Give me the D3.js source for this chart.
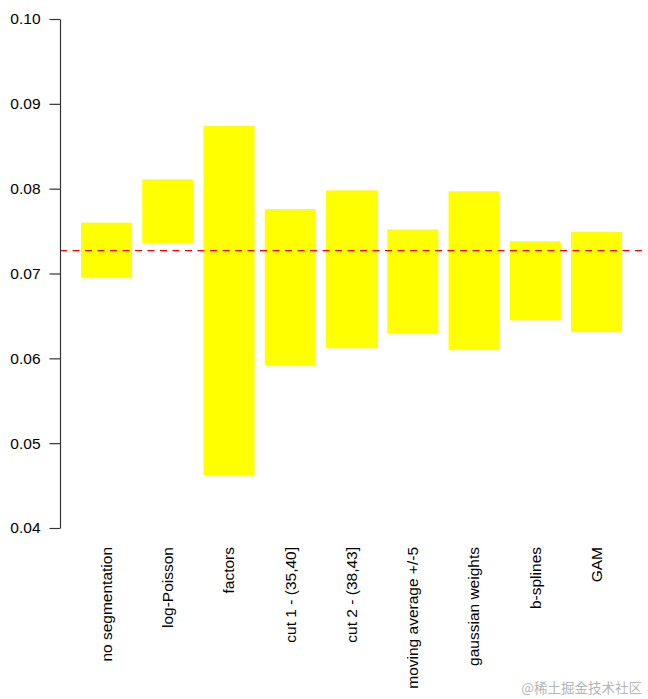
<!DOCTYPE html>
<html>
<head>
<meta charset="utf-8">
<script src="https://cdnjs.cloudflare.com/ajax/libs/d3/7.8.5/d3.min.js"></script>
<style>
  body { margin: 0; background: #fff; }
  svg { display: block; }
</style>
</head>
<body>
<div id="chart"></div>
<script>
// methods compared
var methods = ["no segmentation", "log-Poisson", "factors", "cut 1 - (35,40]", "cut 2 - (38,43]",
               "moving average +/-5", "gaussian weights", "b-splines", "GAM"];
// lower and upper end of each bar
var lower = [0.0695, 0.0736, 0.0462, 0.0592, 0.0612, 0.0629, 0.0610, 0.0645, 0.0631];
var upper = [0.0760, 0.0811, 0.0874, 0.0776, 0.0798, 0.0752, 0.0797, 0.0738, 0.0749];
var refValue = 0.0727;
var yTicks = [0.04, 0.05, 0.06, 0.07, 0.08, 0.09, 0.10];

var width = 648, height = 699;

var svg = d3.select("#chart")
    .append("svg")
    .attr("width", width)
    .attr("height", height);

var x = d3.scaleBand()
    .domain(methods)
    .range([75.9, 627.2])
    .paddingInner(0.1667)
    .paddingOuter(0.0833);

var y = d3.scaleLinear()
    .domain([0.04, 0.10])
    .range([528, 19]);

var data = methods.map(function (m, i) {
    return { name: m, lo: lower[i], hi: upper[i] };
});

// bars
svg.append("g")
    .selectAll("rect")
    .data(data)
    .enter()
    .append("rect")
    .attr("x", function (d) { return x(d.name); })
    .attr("width", x.bandwidth())
    .attr("y", function (d) { return y(d.hi); })
    .attr("height", function (d) { return y(d.lo) - y(d.hi); })
    .attr("fill", "#ffff00");

// reference line
svg.append("line")
    .attr("x1", 60)
    .attr("x2", 643)
    .attr("y1", y(refValue))
    .attr("y2", y(refValue))
    .style("stroke", "#ff0000")
    .style("stroke-width", 1.3)
    .style("stroke-dasharray", "7,5.5");

// y axis
var yAxis = svg.append("g")
    .attr("transform", "translate(60,0)")
    .call(d3.axisLeft(y)
        .tickValues(yTicks)
        .tickFormat(d3.format(".2f"))
        .tickSize(10.5)
        .tickSizeOuter(0)
        .tickPadding(9));

yAxis.selectAll("path, line").style("stroke", "#333").style("stroke-width", 1.2);
yAxis.selectAll("text")
    .style("font-family", "'Liberation Sans', Arial, sans-serif")
    .style("font-size", "15.5px")
    .style("fill", "#000");

// rotated category labels
svg.append("g")
    .selectAll("text")
    .data(methods)
    .enter()
    .append("text")
    .attr("transform", function (d) {
        return "translate(" + (x(d) + x.bandwidth() / 2) + ",547) rotate(-90)";
    })
    .attr("text-anchor", "end")
    .attr("dy", "0.35em")
    .style("font-family", "'Liberation Sans', Arial, sans-serif")
    .style("font-size", "15.5px")
    .text(function (d) { return d; });

// watermark
svg.append("text")
    .attr("x", 642)
    .attr("y", 693)
    .attr("text-anchor", "end")
    .style("font-family", "'Noto Sans CJK SC', sans-serif")
    .style("font-size", "13.5px")
    .style("fill", "#b5b5b5")
    .text("@稀土掘金技术社区");
</script>
</body>
</html>
